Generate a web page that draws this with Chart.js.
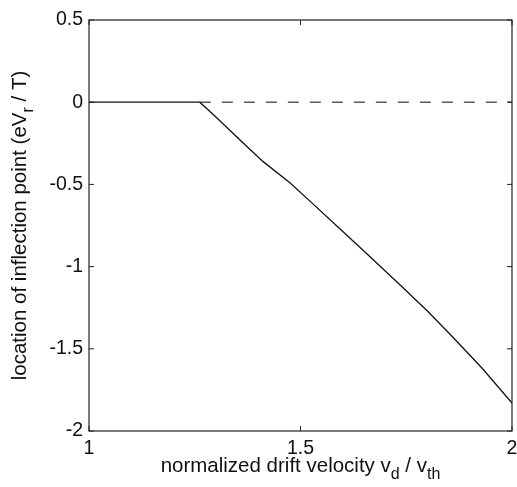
<!DOCTYPE html>
<html>
<head>
<meta charset="utf-8">
<script src="https://cdn.jsdelivr.net/npm/chart.js@4"></script>
<style>
  html, body { margin: 0; padding: 0; background: #fff; }
  #wrap { width: 517px; height: 487px; }
</style>
</head>
<body>
<div id="wrap"><canvas id="c" width="517" height="487"></canvas></div>
<script>
// ---- data ----
const driftVelocity = [1.0, 1.262, 1.30, 1.357, 1.411, 1.475, 1.53, 1.593, 1.66, 1.735, 1.80, 1.853, 1.93, 2.0];
const inflectionLocation = [0, 0, -0.09, -0.23, -0.36, -0.49, -0.62, -0.77, -0.93, -1.11, -1.27, -1.41, -1.62, -1.83];
const refLineX = [1.262, 2.0];
const refLineY = [0, 0];
const xTicks = [1, 1.5, 2];
const yTicks = [0.5, 0, -0.5, -1, -1.5, -2];

const FONT = '"Liberation Sans", Arial, Helvetica, sans-serif';

function drawParts(ctx, parts, size) {
  let w = 0;
  const subSize = Math.round(size * 0.78);
  parts.forEach(p => {
    ctx.font = (p.sub ? subSize : size) + 'px ' + FONT;
    p.w = ctx.measureText(p.t).width;
    w += p.w;
  });
  let x = -w / 2;
  parts.forEach(p => {
    ctx.font = (p.sub ? subSize : size) + 'px ' + FONT;
    ctx.fillText(p.t, x, p.sub ? 7 : 0);
    x += p.w;
  });
}

const framePlugin = {
  id: 'frame',
  afterDraw(chart) {
    const {ctx, chartArea: a, scales} = chart;
    ctx.save();
    ctx.strokeStyle = '#222';
    ctx.lineWidth = 1.2;
    ctx.strokeRect(a.left, a.top, a.right - a.left, a.bottom - a.top);
    ctx.lineWidth = 1;
    ctx.beginPath();
    xTicks.forEach(v => {
      const px = scales.x.getPixelForValue(v);
      ctx.moveTo(px, a.bottom); ctx.lineTo(px, a.bottom - 5);
      ctx.moveTo(px, a.top); ctx.lineTo(px, a.top + 5);
    });
    yTicks.forEach(v => {
      const py = scales.y.getPixelForValue(v);
      ctx.moveTo(a.left, py); ctx.lineTo(a.left + 5, py);
      ctx.moveTo(a.right, py); ctx.lineTo(a.right - 5, py);
    });
    ctx.stroke();

    ctx.fillStyle = '#111';
    ctx.textBaseline = 'alphabetic';
    ctx.textAlign = 'left';
    // x title
    ctx.save();
    ctx.translate((a.left + a.right) / 2, 472);
    drawParts(ctx, [
      {t: 'normalized drift velocity v'}, {t: 'd', sub: true},
      {t: ' / v'}, {t: 'th', sub: true}
    ], 20.5);
    ctx.restore();
    // y title
    ctx.save();
    ctx.translate(26, (a.top + a.bottom) / 2);
    ctx.rotate(-Math.PI / 2);
    drawParts(ctx, [
      {t: 'location of inflection point (eV'}, {t: 'r', sub: true},
      {t: ' / T)'}
    ], 20.5);
    ctx.restore();
    ctx.restore();
  }
};

new Chart(document.getElementById('c'), {
  type: 'scatter',
  data: {
    datasets: [
      {
        data: driftVelocity.map((x, i) => ({x, y: inflectionLocation[i]})),
        showLine: true,
        borderColor: '#111',
        borderWidth: 1.3,
        pointRadius: 0,
        tension: 0
      },
      {
        data: refLineX.map((x, i) => ({x, y: refLineY[i]})),
        showLine: true,
        borderColor: '#333',
        borderWidth: 1.2,
        borderDash: [11, 11],
        pointRadius: 0
      }
    ]
  },
  options: {
    responsive: false,
    animation: false,
    layout: { padding: { top: 20, right: 5, left: 0, bottom: 0 } },
    plugins: { legend: { display: false }, tooltip: { enabled: false } },
    scales: {
      x: {
        type: 'linear', min: 1, max: 2,
        grid: { display: false, drawTicks: false },
        border: { display: false },
        afterBuildTicks(s) { s.ticks = xTicks.map(v => ({value: v})); },
        afterFit(s) { s.height = 56; s.paddingLeft = 0; s.paddingRight = 0; },
        ticks: {
          color: '#111', padding: 6,
          font: { family: FONT, size: 19.5 },
          callback: v => String(v)
        }
      },
      y: {
        type: 'linear', min: -2, max: 0.5,
        grid: { display: false, drawTicks: false },
        border: { display: false },
        afterBuildTicks(s) { s.ticks = yTicks.map(v => ({value: v})); },
        afterFit(s) { s.width = 89; s.paddingTop = 0; s.paddingBottom = 0; },
        ticks: {
          color: '#111', padding: 6,
          font: { family: FONT, size: 19.5 },
          callback: v => String(v)
        }
      }
    }
  },
  plugins: [framePlugin]
});
</script>
</body>
</html>
